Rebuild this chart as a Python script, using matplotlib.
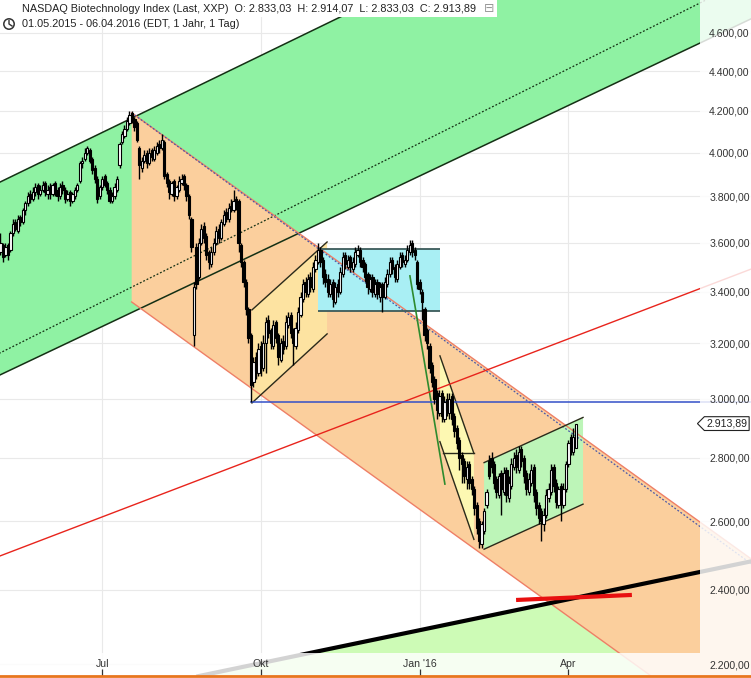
import numpy as np
import matplotlib
matplotlib.use('Agg')
import matplotlib.pyplot as plt
from matplotlib.path import Path
from matplotlib.patches import Rectangle, Circle
from matplotlib.lines import Line2D
from matplotlib.ticker import FixedLocator, FixedFormatter, NullLocator
from matplotlib.transforms import blended_transform_factory, IdentityTransform

# daily candles, trading-day index 0 = 01.05.2015
open_ = [3590, 3560, 3590, 3550, 3590, 3570, 3640, 3690, 3650, 3710,
         3690, 3740, 3770, 3810, 3790, 3820, 3850, 3810, 3830, 3860,
         3810, 3840, 3810, 3860, 3830, 3800, 3850, 3830, 3790, 3820,
         3780, 3800, 3830, 3870, 3950, 3970, 4000, 4010, 3970, 3930,
         3880, 3800, 3840, 3890, 3860, 3830, 3780, 3800, 3830, 3940,
         4050, 4080, 4110, 4140, 4190, 4160, 4140, 4020, 3930, 3960,
         4000, 3950, 4010, 3970, 4000, 4040, 4020, 4050, 3900, 3870,
         3810, 3870, 3800, 3830, 3860, 3890, 3850, 3800, 3700, 3230,
         3580, 3460, 3600, 3670, 3630, 3560, 3510, 3560, 3600, 3660,
         3620, 3680, 3730, 3700, 3760, 3740, 3790, 3780, 3590, 3520,
         3440, 3330, 3230, 3060, 3150, 3090, 3190, 3110, 3200, 3290,
         3250, 3190, 3280, 3230, 3140, 3210, 3190, 3270, 3310, 3250,
         3190, 3250, 3310, 3370, 3440, 3390, 3460, 3410, 3490, 3520,
         3570, 3530, 3470, 3450, 3390, 3440, 3360, 3430, 3400, 3470,
         3550, 3500, 3540, 3490, 3510, 3550, 3570, 3530, 3510, 3470,
         3410, 3460, 3390, 3440, 3380, 3430, 3380, 3430, 3470, 3530,
         3500, 3450, 3500, 3550, 3510, 3530, 3560, 3600, 3570, 3520,
         3440, 3400, 3330, 3250, 3190, 3120, 3070, 3020, 2950, 3020,
         2930, 3000, 2950, 3010, 2940, 2900, 2860, 2810, 2790, 2730,
         2780, 2730, 2700, 2650, 2600, 2530, 2570, 2650, 2790, 2800,
         2780, 2730, 2680, 2750, 2690, 2760, 2670, 2710, 2770, 2810,
         2760, 2830, 2800, 2750, 2690, 2720, 2770, 2690, 2650, 2630,
         2590, 2620, 2670, 2690, 2770, 2720, 2650, 2710, 2650, 2700,
         2780, 2870, 2820, 2833.03]
high = [3610, 3640, 3600, 3600, 3600, 3650, 3700, 3700, 3720, 3720,
        3750, 3780, 3820, 3830, 3840, 3860, 3860, 3850, 3870, 3870,
        3850, 3860, 3860, 3870, 3840, 3860, 3870, 3840, 3830, 3830,
        3820, 3840, 3860, 3960, 3980, 4020, 4030, 4020, 3980, 3940,
        3890, 3850, 3890, 3900, 3870, 3840, 3820, 3860, 3890, 4050,
        4100, 4130, 4170, 4200, 4200, 4170, 4150, 4030, 3980, 4010,
        4010, 4020, 4020, 4030, 4050, 4060, 4090, 4060, 3910, 3880,
        3870, 3880, 3850, 3890, 3900, 3900, 3860, 3810, 3710, 3440,
        3600, 3620, 3680, 3690, 3640, 3570, 3580, 3620, 3670, 3680,
        3700, 3740, 3750, 3770, 3790, 3830, 3800, 3790, 3600, 3530,
        3450, 3340, 3240, 3150, 3170, 3200, 3210, 3230, 3300, 3310,
        3260, 3290, 3290, 3240, 3220, 3230, 3310, 3320, 3320, 3260,
        3280, 3340, 3400, 3450, 3460, 3470, 3480, 3520, 3550, 3600,
        3580, 3540, 3490, 3470, 3450, 3450, 3440, 3450, 3500, 3560,
        3560, 3550, 3550, 3540, 3580, 3590, 3580, 3540, 3520, 3480,
        3470, 3470, 3450, 3450, 3440, 3440, 3460, 3490, 3540, 3540,
        3510, 3530, 3560, 3560, 3550, 3590, 3610, 3610, 3580, 3530,
        3450, 3410, 3340, 3260, 3200, 3130, 3080, 3030, 3030, 3030,
        3010, 3020, 3020, 3020, 2950, 2910, 2870, 2820, 2800, 2790,
        2790, 2740, 2710, 2660, 2610, 2600, 2640, 2700, 2810, 2820,
        2790, 2740, 2750, 2760, 2770, 2770, 2740, 2800, 2820, 2830,
        2840, 2840, 2810, 2760, 2750, 2780, 2780, 2700, 2660, 2640,
        2640, 2700, 2720, 2780, 2780, 2730, 2710, 2720, 2720, 2790,
        2860, 2880, 2900, 2914.07]
low = [3540, 3550, 3520, 3540, 3530, 3560, 3630, 3650, 3640, 3670,
       3680, 3720, 3760, 3770, 3780, 3800, 3790, 3800, 3820, 3800,
       3790, 3790, 3800, 3800, 3780, 3790, 3810, 3770, 3780, 3760,
       3770, 3790, 3820, 3860, 3930, 3960, 3990, 3950, 3900, 3860,
       3770, 3790, 3830, 3840, 3810, 3770, 3770, 3790, 3820, 3930,
       4040, 4070, 4100, 4130, 4140, 4100, 4050, 3880, 3910, 3950,
       3930, 3940, 3960, 3960, 3990, 4000, 4010, 3880, 3840, 3790,
       3800, 3780, 3790, 3820, 3850, 3830, 3780, 3700, 3560, 3190,
       3410, 3450, 3590, 3600, 3530, 3490, 3500, 3550, 3590, 3600,
       3610, 3670, 3690, 3690, 3730, 3730, 3740, 3560, 3500, 3420,
       3310, 3200, 2990, 3040, 3070, 3080, 3080, 3100, 3090, 3220,
       3180, 3180, 3200, 3120, 3130, 3160, 3180, 3260, 3220, 3120,
       3180, 3240, 3300, 3360, 3380, 3380, 3400, 3400, 3480, 3510,
       3500, 3430, 3420, 3380, 3380, 3340, 3350, 3380, 3390, 3460,
       3490, 3490, 3480, 3480, 3500, 3540, 3500, 3480, 3440, 3390,
       3400, 3380, 3380, 3370, 3360, 3320, 3370, 3420, 3460, 3470,
       3440, 3440, 3490, 3500, 3500, 3520, 3550, 3540, 3530, 3410,
       3390, 3290, 3210, 3180, 3090, 3040, 2980, 2930, 2940, 2920,
       2920, 2940, 2930, 2910, 2870, 2830, 2760, 2720, 2720, 2700,
       2700, 2680, 2620, 2560, 2520, 2520, 2560, 2640, 2730, 2750,
       2700, 2670, 2670, 2620, 2680, 2660, 2660, 2700, 2760, 2750,
       2750, 2770, 2720, 2680, 2680, 2710, 2660, 2620, 2590, 2540,
       2570, 2610, 2660, 2680, 2690, 2640, 2640, 2600, 2640, 2690,
       2770, 2810, 2810, 2833.03]
close = [3560, 3600, 3540, 3580, 3550, 3640, 3680, 3660, 3700, 3690,
         3740, 3770, 3800, 3790, 3820, 3840, 3810, 3830, 3850, 3820,
         3830, 3810, 3850, 3820, 3800, 3840, 3830, 3790, 3810, 3780,
         3810, 3830, 3850, 3950, 3960, 4000, 4020, 3960, 3920, 3880,
         3790, 3840, 3880, 3850, 3830, 3780, 3800, 3840, 3880, 4040,
         4090, 4110, 4150, 4180, 4150, 4120, 4060, 3940, 3960, 3990,
         3950, 4000, 3980, 4010, 4030, 4020, 4060, 3890, 3860, 3820,
         3860, 3800, 3840, 3870, 3880, 3850, 3800, 3720, 3580, 3420,
         3430, 3600, 3660, 3620, 3550, 3520, 3560, 3600, 3650, 3620,
         3690, 3720, 3700, 3750, 3740, 3780, 3760, 3600, 3520, 3440,
         3330, 3220, 3050, 3130, 3100, 3180, 3120, 3200, 3280, 3240,
         3200, 3270, 3220, 3150, 3200, 3180, 3280, 3300, 3240, 3200,
         3260, 3320, 3380, 3430, 3400, 3450, 3420, 3500, 3530, 3570,
         3520, 3460, 3440, 3400, 3430, 3370, 3420, 3400, 3480, 3540,
         3510, 3530, 3500, 3520, 3560, 3570, 3520, 3500, 3460, 3420,
         3450, 3400, 3430, 3390, 3420, 3380, 3440, 3470, 3520, 3490,
         3460, 3510, 3540, 3520, 3530, 3570, 3590, 3560, 3550, 3430,
         3410, 3360, 3230, 3200, 3110, 3060, 3000, 2960, 3010, 2940,
         2990, 2960, 3000, 2930, 2890, 2850, 2800, 2780, 2740, 2770,
         2720, 2700, 2640, 2580, 2540, 2590, 2630, 2690, 2740, 2770,
         2720, 2690, 2740, 2700, 2750, 2680, 2720, 2780, 2800, 2770,
         2820, 2790, 2740, 2700, 2730, 2760, 2680, 2640, 2610, 2600,
         2620, 2680, 2700, 2760, 2710, 2660, 2700, 2660, 2700, 2780,
         2850, 2830, 2870, 2913.89]

# drawing tools: (trading-day index, price) anchors
green_upper = [(0, 3860), (304, 5919)]
green_mid = [(0, 3161), (304, 4911)]
green_lower = [(0, 3081), (304, 4679)]
orange_upper = [(53.9, 4190), (304, 2486)]
orange_lower = [(53.9, 3359), (304, 1993)]
orange_dotted = [(53.9, 4190), (304, 2472)]
sep_upper = [(102.4, 3328), (132.7, 3603)]
sep_lower = [(102.4, 2985), (132.7, 3236)]
box_x = [129.0, 178.2]
box_y = [3324, 3574]
jan_upper = [(178.2, 3154), (191.9, 2814)]
jan_lower = [(178.2, 2853), (191.9, 2545)]
jan_mid = [(179.4, 2816), (191.9, 2816)]
steep_line = [(166.1, 3463), (180.2, 2715)]
feb_upper = [(196.0, 2784), (235.9, 2935)]
feb_lower = [(196.0, 2516), (235.9, 2652)]
red_line = [(0, 2494), (304, 3492)]
blue_line = [(102, 2990), (304, 2990)]
black_line = [(80, 2168), (304, 2481)]
red_mark = [(208.9, 2371), (255.6, 2385)]

y_ticks = [2200, 2400, 2600, 2800, 3000, 3200, 3400, 3600, 3800, 4000, 4200, 4400, 4600]
y_labels = ['2.200,00', '2.400,00', '2.600,00', '2.800,00', '3.000,00', '3.200,00', '3.400,00',
            '3.600,00', '3.800,00', '4.000,00', '4.200,00', '4.400,00', '4.600,00']
x_ticks = [42, 106, 170, 230]
x_labels = ['Jul', 'Okt', "Jan '16", 'Apr']
last_price = 2913.89

plt.rcParams['font.family'] = ['Liberation Sans', 'DejaVu Sans']

fig = plt.figure(figsize=(7.51, 6.78), dpi=100)
ax = fig.add_axes([0, 2 / 678, 1, 676 / 678])
ax.set_yscale('log')
ax.set_xlim(0.806, 303.63)
ax.set_ylim(2169.4, 4780.9)
ax.yaxis.set_major_locator(FixedLocator(y_ticks))
ax.yaxis.set_minor_locator(NullLocator())
ax.xaxis.set_major_locator(FixedLocator(x_ticks))
ax.set_axisbelow(True)
ax.grid(True, color='#e9e9e9', lw=0.8)
ax.tick_params(length=0, labelbottom=False, labelleft=False)
for s in ax.spines.values():
    s.set_visible(False)


def seg(pts):
    return [p[0] for p in pts], [p[1] for p in pts]


def band(a, b, **kw):
    xs = [a[0][0], a[1][0], b[1][0], b[0][0]]
    ys = [a[0][1], a[1][1], b[1][1], b[0][1]]
    ax.fill(xs, ys, lw=0, **kw)


# filled areas
band(green_upper, green_lower, color='#8ff2a3', zorder=1)
ax.fill([black_line[0][0], black_line[1][0], black_line[1][0], black_line[0][0]],
        [black_line[0][1], black_line[1][1], 1900, 1900], color='#cdfbb6', lw=0, zorder=1)
band(orange_upper, orange_lower, color='#fbcf9d', zorder=1.1)
band(sep_upper, sep_lower, color='#fde3a1', zorder=1.2)
ax.fill_between(box_x, box_y[0], box_y[1], color='#a9eff4', lw=0, zorder=1.2)
band(jan_upper, jan_lower, color='#fdf8b2', zorder=1.2)
band(feb_upper, feb_lower, color='#bdf5b8', zorder=1.2)

# lines
ax.plot(*seg(green_upper), color='#143014', lw=1.1, zorder=2)
ax.plot(*seg(green_lower), color='#143014', lw=1.1, zorder=2)
ax.plot(*seg(green_mid), color='#143014', lw=0.9, ls=(0, (1.5, 1.5)), zorder=2)
ax.plot(*seg(orange_upper), color='#ee7f66', lw=1.0, zorder=2)
ax.plot(*seg(orange_lower), color='#ee7f66', lw=1.0, zorder=2)
ax.plot(*seg(orange_dotted), color='#4a58a8', lw=0.9, ls=(0, (1.5, 1.5)), zorder=2)
for ln in (sep_upper, sep_lower, jan_upper, jan_lower, jan_mid, feb_upper, feb_lower):
    ax.plot(*seg(ln), color='#2a2a1a', lw=1.0, zorder=2)
ax.hlines(box_y, box_x[0], box_x[1], color='#3c5a5a', lw=1.3, zorder=2)
ax.plot(*seg(steep_line), color='#2e8b2e', lw=1.2, zorder=2)
ax.plot(*seg(red_line), color='#e8241c', lw=1.0, zorder=2)
ax.plot(*seg(blue_line), color='#3350c8', lw=1.1, zorder=2)
ax.plot(*seg(black_line), color='black', lw=3.0, zorder=2.5, solid_capstyle='butt')
ax.plot(*seg(red_mark), color='#e81010', lw=3.0, zorder=2.6, solid_capstyle='butt')

# candles
idx = np.arange(len(close))
o = np.array(open_)
c = np.array(close)
ax.vlines(idx, low, high, color='black', lw=1.0, zorder=3)
ax.bar(idx, c - o, bottom=o, width=0.9, color=np.where(c >= o, 'white', 'black'),
       edgecolor='black', lw=0.8, zorder=4)

# faded margins (right / bottom)
fade_x = 700 / 751
fade_y = (676 - 653) / 676
ax.add_patch(Rectangle((fade_x, 0), 1 - fade_x, 1, transform=ax.transAxes,
                       color='white', alpha=0.83, lw=0, zorder=10))
ax.add_patch(Rectangle((0, 0), fade_x, fade_y, transform=ax.transAxes,
                       color='white', alpha=0.83, lw=0, zorder=10))

# axis labels on an overlay axes
ax2 = fig.add_axes(ax.get_position(), sharex=ax, sharey=ax, facecolor='none')
ax2.yaxis.set_major_formatter(FixedFormatter(y_labels))
ax2.xaxis.set_major_formatter(FixedFormatter(x_labels))
ax2.yaxis.tick_right()
ax2.tick_params(axis='y', length=0, pad=-1, labelsize=7.6, labelcolor='#333333',
                labelright=True, labelleft=False)
plt.setp(ax2.get_yticklabels(), ha='right')
ax2.tick_params(axis='x', direction='in', length=5, width=0.9, color='#333333', pad=-12,
                labelsize=7.6, labelcolor='#333333')
for k in ('left', 'right', 'top'):
    ax2.spines[k].set_visible(False)
ax2.spines['bottom'].set_color('#e8761e')
ax2.spines['bottom'].set_linewidth(2)


def tag_box(x0, y0, width, height, mutation_size):
    pad = mutation_size * 0.18
    x0 -= pad
    y0 -= pad
    w = width + 2 * pad
    h = height + 2 * pad
    tip = h * 0.5
    verts = [(x0 - tip, y0 + h / 2), (x0, y0), (x0 + w, y0), (x0 + w, y0 + h),
             (x0, y0 + h), (x0 - tip, y0 + h / 2)]
    return Path(verts, closed=True)


tr = blended_transform_factory(ax2.transAxes, ax2.transData)
ax2.text(0.995, last_price, '2.913,89', transform=tr, ha='right', va='center',
         fontsize=7.6, color='#222222',
         bbox=dict(boxstyle=tag_box, fc='white', ec='#222222', lw=0.8), zorder=20)

# header
fig.patches.append(Rectangle((0, 678 - 17), 497, 17, transform=IdentityTransform(),
                             color='white', lw=0, zorder=2))
fig.text(22 / 751, 1 - 9 / 678,
         'NASDAQ Biotechnology Index (Last, XXP)  O: 2.833,03  H: 2.914,07  L: 2.833,03  C: 2.913,89',
         fontsize=7.85, va='center', color='#222222')
fig.text(22 / 751, 1 - 24 / 678, '01.05.2015 - 06.04.2016 (EDT, 1 Jahr, 1 Tag)',
         fontsize=7.85, va='center', color='#222222')
fig.text(484 / 751, 1 - 9 / 678, '\u229f', fontsize=9, va='center', color='#999999',
         family='DejaVu Sans')
for xc, yb, yt, b0, b1 in [(5, 664, 676, 667, 673), (9.5, 665, 676, 668, 671), (14, 664, 676, 666, 674)]:
    fig.add_artist(Line2D([xc, xc], [yb, yt], transform=IdentityTransform(), color='#333', lw=0.8))
    fig.patches.append(Rectangle((xc - 1.2, b0), 2.4, b1 - b0, transform=IdentityTransform(),
                                 fc='#333', lw=0))
fig.patches.append(Circle((9, 654), 5.2, transform=IdentityTransform(), fc='none',
                          ec='#333', lw=1.1))
fig.add_artist(Line2D([9, 9, 12], [657.5, 654, 652], transform=IdentityTransform(),
                      color='#333', lw=1.0))

fig.savefig('out.png', dpi=100)
